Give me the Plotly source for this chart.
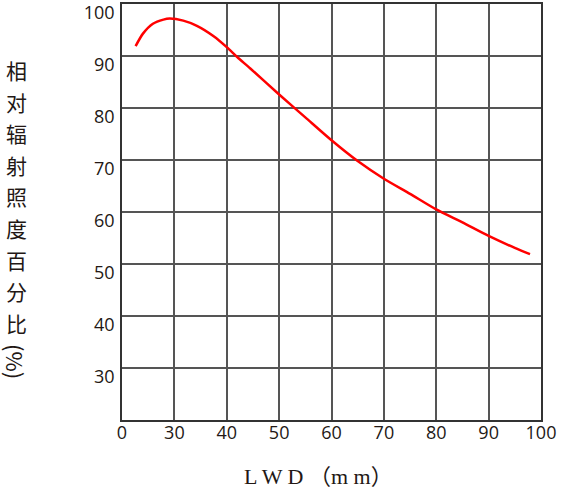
import plotly.graph_objects as go

# LWD (mm) vs relative irradiance percentage
lwd = [22.6, 24.0, 25.9, 27.9, 29.1, 31.7, 34.3, 37.5, 40, 42, 44.5, 50, 55, 60, 65, 70, 75, 80, 85, 90, 95, 97.9]
irradiance = [91.9, 94.3, 96.2, 97.0, 97.2, 96.8, 95.8, 93.8, 91.7, 89.8, 87.6, 82.6, 78.2, 73.8, 69.8, 66.4, 63.5, 60.5, 58.0, 55.4, 53.1, 51.9]

x_ticks = [20, 30, 40, 50, 60, 70, 80, 90, 100]
x_ticktext = ['0', '30', '40', '50', '60', '70', '80', '90', '100']
y_ticks = [30, 40, 50, 60, 70, 80, 90, 100]

y_title_chars = ['相', '对', '辐', '射', '照', '度', '百', '分', '比']

W, H = 561, 491
M_L, M_R, M_T, M_B = 122, 20, 4, 71
plot_w = W - M_L - M_R
plot_h = H - M_T - M_B

text_color = '#231815'
grid_color = '#555555'

fig = go.Figure()

fig.add_trace(go.Scatter(
    x=lwd,
    y=irradiance,
    mode='lines',
    line=dict(color='#ff0000', width=2.5, shape='spline', smoothing=0.7),
    hoverinfo='x+y',
    showlegend=False
))


def px_to_paper(px, py):
    return (px - M_L) / plot_w, (H - M_B - py) / plot_h


annotations = []
# vertical y-axis title, one character per line
for i, ch in enumerate(y_title_chars):
    ax, ay = px_to_paper(16, 70 + i * 31.6)
    annotations.append(dict(
        text=ch, x=ax, y=ay, xref='paper', yref='paper',
        xanchor='center', yanchor='middle', showarrow=False,
        font=dict(family='Noto Sans CJK SC', size=21, color=text_color)
    ))
ax, ay = px_to_paper(16, 361)
annotations.append(dict(
    text='(%)', x=ax, y=ay, xref='paper', yref='paper', textangle=90,
    xanchor='center', yanchor='middle', showarrow=False,
    font=dict(family='Noto Sans CJK SC', size=22, color=text_color)
))
ax, ay = px_to_paper(318, 476)
annotations.append(dict(
    text='L W D （m m）', x=ax, y=ay, xref='paper', yref='paper',
    xanchor='center', yanchor='middle', showarrow=False,
    font=dict(family='Liberation Serif, Noto Sans CJK SC', size=22, color=text_color)
))

fig.update_layout(
    width=W,
    height=H,
    margin=dict(l=M_L, r=M_R, t=M_T, b=M_B),
    plot_bgcolor='white',
    paper_bgcolor='white',
    annotations=annotations,
    xaxis=dict(
        range=[20, 100],
        tickvals=x_ticks,
        ticktext=x_ticktext,
        showgrid=True,
        gridcolor=grid_color,
        gridwidth=1.5,
        showline=True,
        linecolor='#333333',
        linewidth=1.5,
        mirror=True,
        zeroline=False,
        ticks='',
        automargin=False,
        ticklabelstandoff=-4,
        ticklabeloverflow='allow',
        tickfont=dict(family='Open Sans', size=18, color=text_color)
    ),
    yaxis=dict(
        range=[20, 100],
        tickvals=y_ticks,
        showgrid=True,
        gridcolor=grid_color,
        gridwidth=1.5,
        showline=True,
        linecolor='#333333',
        linewidth=1.5,
        mirror=True,
        zeroline=False,
        ticks='',
        automargin=False,
        ticklabelshift=9,
        ticklabelstandoff=2,
        ticklabeloverflow='allow',
        tickfont=dict(family='Open Sans', size=18, color=text_color)
    )
)

# drop the default page margin so the figure sits at the window corner
fig.write_html("out.html", config={'displayModeBar': False},
               post_script="document.body.style.margin='0';")
